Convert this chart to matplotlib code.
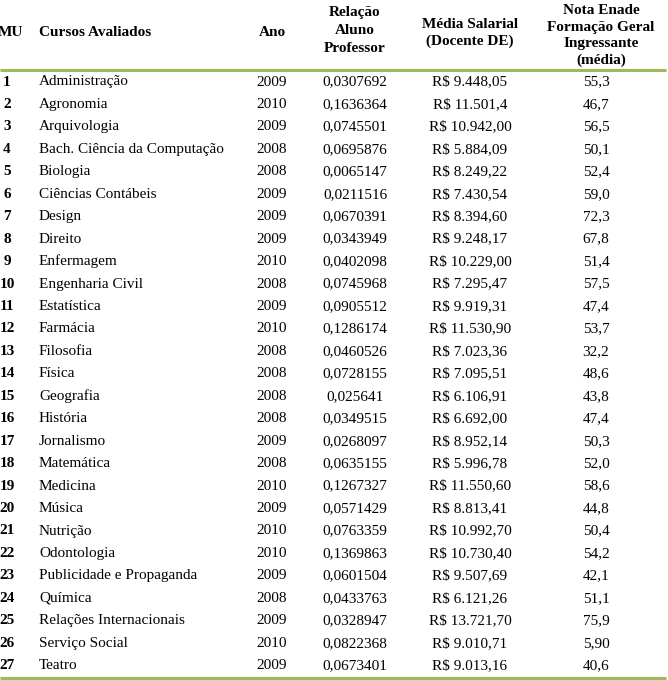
import matplotlib.pyplot as plt

mu = [str(i) for i in range(1, 28)]
cursos = ["Administração", "Agronomia", "Arquivologia", "Bach. Ciência da Computação",
          "Biologia", "Ciências Contábeis", "Design", "Direito", "Enfermagem",
          "Engenharia Civil", "Estatística", "Farmácia", "Filosofia", "Física",
          "Geografia", "História", "Jornalismo", "Matemática", "Medicina", "Música",
          "Nutrição", "Odontologia", "Publicidade e Propaganda", "Química",
          "Relações Internacionais", "Serviço Social", "Teatro"]
anos = ["2009", "2010", "2009", "2008", "2008", "2009", "2009", "2009", "2010",
        "2008", "2009", "2010", "2008", "2008", "2008", "2008", "2009", "2008",
        "2010", "2009", "2010", "2010", "2009", "2008", "2009", "2010", "2009"]
relacao = ["0,0307692", "0,1636364", "0,0745501", "0,0695876", "0,0065147",
           "0,0211516", "0,0670391", "0,0343949", "0,0402098", "0,0745968",
           "0,0905512", "0,1286174", "0,0460526", "0,0728155", "0,025641",
           "0,0349515", "0,0268097", "0,0635155", "0,1267327", "0,0571429",
           "0,0763359", "0,1369863", "0,0601504", "0,0433763", "0,0328947",
           "0,0822368", "0,0673401"]
salario = ["R$ 9.448,05", "R$ 11.501,4", "R$ 10.942,00", "R$ 5.884,09", "R$ 8.249,22",
           "R$ 7.430,54", "R$ 8.394,60", "R$ 9.248,17", "R$ 10.229,00", "R$ 7.295,47",
           "R$ 9.919,31", "R$ 11.530,90", "R$ 7.023,36", "R$ 7.095,51", "R$ 6.106,91",
           "R$ 6.692,00", "R$ 8.952,14", "R$ 5.996,78", "R$ 11.550,60", "R$ 8.813,41",
           "R$ 10.992,70", "R$ 10.730,40", "R$ 9.507,69", "R$ 6.121,26", "R$ 13.721,70",
           "R$ 9.010,71", "R$ 9.013,16"]
nota = ["55,3", "46,7", "56,5", "50,1", "52,4", "59,0", "72,3", "67,8", "51,4",
        "57,5", "47,4", "53,7", "32,2", "48,6", "43,8", "47,4", "50,3", "52,0",
        "58,6", "44,8", "50,4", "54,2", "42,1", "51,1", "75,9", "5,90", "40,6"]

headers = ["MU", "Cursos Avaliados", "Ano", "Relação\nAluno\nProfessor",
           "Média Salarial\n(Docente DE)", "Nota Enade\nFormação Geral\nIngressante\n(média)"]

W, H = 668, 680
fig = plt.figure(figsize=(W / 100, H / 100), dpi=100)
ax = fig.add_axes([0, 0, 1, 1])
ax.set_xlim(0, W)
ax.set_ylim(H, 0)
ax.axis("off")

font = {"family": "Liberation Serif", "fontsize": 11, "color": "black"}
green = "#9bbb59"

# column x positions and alignment
col_x = [7, 39, 272, 355, 470, 596]
col_ha = ["center", "left", "center", "center", "center", "center"]

# header (x, y centre, line spacing)
head_x = [10, 39, 272, 355, 470, 601]
head_y = [32, 32, 32, 30.5, 33, 35.5]
head_ls = [1.2, 1.2, 1.2, 1.48, 1.34, 1.34]
for x, ha, txt, y, ls in zip(head_x, col_ha, headers, head_y, head_ls):
    ax.text(x, y, txt, ha=ha, va="center", fontweight="bold", linespacing=ls, **font)

ax.plot([0, 666], [69.5, 69.5], color=green, lw=2.2, solid_capstyle="butt")
ax.plot([0, 666], [677.5, 677.5], color=green, lw=2.2, solid_capstyle="butt")

y0, dy = 82, 22.45
for i in range(len(cursos)):
    y = y0 + i * dy
    row = [mu[i], cursos[i], anos[i], relacao[i], salario[i], nota[i]]
    for j, (x, ha, txt) in enumerate(zip(col_x, col_ha, row)):
        ax.text(x, y, txt, ha=ha, va="center",
                fontweight="bold" if j == 0 else "normal", **font)

fig.savefig("out.png", dpi=100)
